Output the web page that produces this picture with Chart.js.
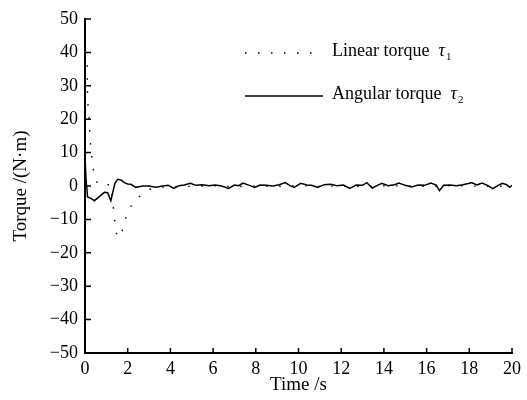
<!DOCTYPE html>
<html>
<head>
<meta charset="utf-8">
<script src="https://cdn.jsdelivr.net/npm/chart.js@4/dist/chart.umd.min.js"></script>
<style>
  html, body { margin: 0; padding: 0; background: #fff; }
  canvas { display: block; }
</style>
</head>
<body>
<canvas id="torqueChart" width="527" height="400"></canvas>
<script>
// Linear torque tau1 (dotted)
const linearTime = [0, 0.1, 0.12, 0.19, 0.25, 0.36, 0.47, 0.6, 0.8, 1.0, 1.2, 1.33, 1.45, 1.6, 1.7, 1.8, 2.0, 2.26, 2.66, 3.07, 3.5, 4, 5, 6, 7, 8, 9, 10, 11, 12, 13, 14, 15, 16, 17, 18, 19, 20];
const linearTorque = [40, 37, 26, 20, 13, 6, 2.4, 0.6, 0.1, 0.3, 0.5, -6.6, -14, -15.4, -15, -11.6, -8, -4.8, -2.5, -0.9, -0.4, -0.2, -0.1, 0.1, -0.2, 0, -0.1, 0.1, -0.1, 0, -0.2, 0.1, 0, -0.1, 0.1, 0, -0.1, 0];

// Angular torque tau2 (solid)
const angularTime = [0, 0.05, 0.12, 0.28, 0.44, 0.67, 0.91, 1.06, 1.21, 1.4, 1.53, 1.68, 1.84, 2.0, 2.15, 2.38, 2.7, 3.0, 3.32, 3.63,
  3.9, 4.16, 4.4, 4.65, 4.94, 5.2, 5.5, 5.8, 6.1, 6.4, 6.73, 7.0, 7.2, 7.4, 7.7, 7.95, 8.2, 8.5, 8.8, 9.1, 9.38, 9.6, 9.8,
  10.1, 10.4, 10.6, 10.9, 11.2, 11.5, 11.8, 12.1, 12.4, 12.7, 13.0, 13.2, 13.45, 13.7, 13.9, 14.2, 14.5, 14.7, 15.0, 15.3,
  15.6, 15.9, 16.2, 16.45, 16.6, 16.8, 17.1, 17.4, 17.7, 18.0, 18.1, 18.35, 18.6, 18.85, 19.1, 19.35, 19.55, 19.75, 19.9, 20];
const angularTorque = [8.5, 2, -3.3, -3.7, -4.4, -3.2, -1.9, -2.0, -4.4, 0.8, 2.0, 1.8, 1.0, 0.6, 0.5, -0.4, 0, 0, -0.4, 0,
  0.2, -0.7, 0.1, 0.3, 0.8, 0.2, 0.4, 0.1, 0.3, 0, -0.7, 0.3, 0.1, 0.9, 0.2, -0.4, 0.3, 0.2, 0, 0.4, 1.0, 0.1, -0.4,
  0.8, 0.3, 0.2, -0.4, 0.4, 0.5, 0.1, 0.3, -0.7, 0.3, 0.2, 1.0, -0.6, 0.2, 0.8, 0.1, 0.4, 0.9, 0.2, -0.3,
  0.3, 0.2, 0.9, 0.3, -1.4, 0.2, 0.3, 0.1, 0.4, 0.8, 1.0, 0.3, 0.9, 0.2, -0.8, 0.2, 0.8, 0.4, -0.4, 0.2];

const xTicks = [0, 2, 4, 6, 8, 10, 12, 14, 16, 18, 20];
const yTicks = [-50, -40, -30, -20, -10, 0, 10, 20, 30, 40, 50];

const legendItems = [
  { label: 'Linear torque', sub: '1', dash: [1.5, 11.5] },
  { label: 'Angular torque', sub: '2', dash: [] }
];

const serif = '"Liberation Serif", "Times New Roman", serif';

function fmtTick(v) {
  return v < 0 ? '\u2212' + Math.abs(v) : String(v);
}

// inward tick marks on left and bottom axes
const innerTicks = {
  id: 'innerTicks',
  afterDatasetsDraw(chart) {
    const { ctx, chartArea, scales } = chart;
    ctx.save();
    ctx.strokeStyle = '#000';
    ctx.lineWidth = 1.5;
    ctx.beginPath();
    xTicks.forEach(v => {
      const px = scales.x.getPixelForValue(v);
      ctx.moveTo(px, chartArea.bottom);
      ctx.lineTo(px, chartArea.bottom - 5);
    });
    yTicks.forEach(v => {
      const py = scales.y.getPixelForValue(v);
      ctx.moveTo(chartArea.left, py);
      ctx.lineTo(chartArea.left + 6, py);
    });
    ctx.stroke();
    ctx.restore();
  }
};

// legend inside the plot, top right
const innerLegend = {
  id: 'innerLegend',
  afterDraw(chart) {
    const ctx = chart.ctx;
    const rows = [56, 99];
    ctx.save();
    legendItems.forEach((item, i) => {
      const base = rows[i];
      ctx.strokeStyle = '#000';
      ctx.lineWidth = i === 0 ? 1.4 : 1.5;
      ctx.setLineDash(item.dash);
      ctx.beginPath();
      ctx.moveTo(245, base - 3);
      ctx.lineTo(323, base - 3);
      ctx.stroke();
      ctx.setLineDash([]);

      ctx.fillStyle = '#000';
      ctx.textBaseline = 'alphabetic';
      ctx.font = '18px ' + serif;
      ctx.fillText(item.label, 332, base);
      const w = ctx.measureText(item.label + '  ').width;
      ctx.font = 'italic 18px ' + serif;
      ctx.fillText('\u03c4', 332 + w, base);
      const tw = ctx.measureText('\u03c4').width;
      ctx.font = '11px ' + serif;
      ctx.fillText(item.sub, 332 + w + tw + 1, base + 4);
    });
    ctx.restore();
  }
};

new Chart(document.getElementById('torqueChart'), {
  type: 'line',
  data: {
    datasets: [
      {
        label: 'Linear torque',
        data: linearTime.map((t, i) => ({ x: t, y: linearTorque[i] })),
        borderColor: '#000',
        borderWidth: 1.4,
        borderDash: [1.5, 11.5],
        pointRadius: 0,
        tension: 0,
        fill: false
      },
      {
        label: 'Angular torque',
        data: angularTime.map((t, i) => ({ x: t, y: angularTorque[i] })),
        borderColor: '#000',
        borderWidth: 1.5,
        pointRadius: 0,
        tension: 0,
        fill: false
      }
    ]
  },
  options: {
    responsive: false,
    animation: false,
    layout: { padding: { top: 19, right: 15, left: 0, bottom: 0 } },
    plugins: {
      legend: { display: false },
      tooltip: { enabled: false }
    },
    scales: {
      x: {
        type: 'linear',
        min: 0,
        max: 20,
        afterBuildTicks: s => { s.ticks = xTicks.map(v => ({ value: v })); },
        afterFit: s => { s.height = 47; },
        grid: { display: false, drawTicks: false },
        border: { display: true, color: '#000', width: 2 },
        ticks: { color: '#000', padding: 5, maxRotation: 0, font: { family: serif, size: 18 } },
        title: { display: true, text: 'Time /s', color: '#000', padding: { top: 0, bottom: 4 }, font: { family: serif, size: 19 } }
      },
      y: {
        type: 'linear',
        min: -50,
        max: 50,
        afterBuildTicks: s => { s.ticks = yTicks.map(v => ({ value: v })); },
        afterFit: s => { s.width = 85; },
        grid: { display: false, drawTicks: false },
        border: { display: true, color: '#000', width: 2 },
        ticks: { color: '#000', padding: 7, callback: v => fmtTick(v), font: { family: serif, size: 18 } },
        title: { display: true, text: 'Torque /(N\u00b7m)', color: '#000', padding: { top: 10, bottom: 0 }, font: { family: serif, size: 19 } }
      }
    }
  },
  plugins: [innerTicks, innerLegend]
});
</script>
</body>
</html>
